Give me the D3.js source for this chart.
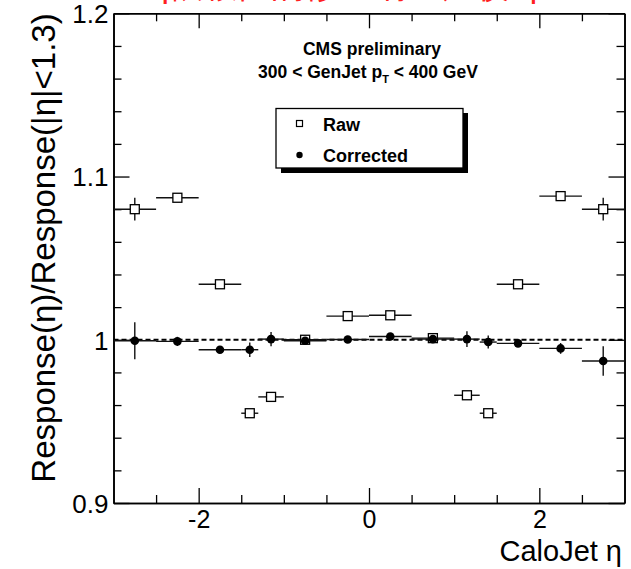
<!DOCTYPE html>
<html>
<head>
<meta charset="utf-8">
<script src="https://cdn.jsdelivr.net/npm/d3@7"></script>
<style>
  html, body { margin: 0; padding: 0; background: #fff; }
  svg { display: block; }
  text { font-family: "Liberation Sans", Arial, Helvetica, sans-serif; }
</style>
</head>
<body>
<svg id="chart" width="631" height="569"></svg>
<script>
// ---- data ----
const etaLow  = [-3, -2.5, -2, -1.5, -1.3, -1, -0.5, 0, 0.5, 1, 1.3, 1.5, 2, 2.5];
const etaHigh = [-2.5, -2, -1.5, -1.3, -1, -0.5, 0, 0.5, 1, 1.3, 1.5, 2, 2.5, 3];
const rawValues  = [1.080, 1.087, 1.034, 0.955, 0.965, 1.000, 1.0145, 1.015, 1.001, 0.966, 0.955, 1.034, 1.088, 1.080];
const rawErrors  = [0.007, 0.002, 0.001, 0.002, 0.001, 0.001, 0.001, 0.001, 0.001, 0.001, 0.002, 0.001, 0.002, 0.007];
const corrValues = [0.9994, 0.999, 0.9939, 0.9939, 1.0004, 0.9994, 1.0002, 1.002, 1.0004, 1.0004, 0.9986, 0.9978, 0.9947, 0.987];
const corrErrors = [0.0114, 0.0028, 0.001, 0.0045, 0.0043, 0.001, 0.001, 0.001, 0.001, 0.0048, 0.004, 0.001, 0.0033, 0.009];
const xMajorTicks = [-2, 0, 2];
const xTickLabels = ["-2", "0", "2"];
const yMajorTicks = [0.9, 1.0, 1.1, 1.2];
const yTickLabels = ["0.9", "1", "1.1", "1.2"];
const legendLabels = ["Raw", "Corrected"];

// ---- layout ----
const svg = d3.select("#chart");
const L = 113.5, R = 624.5, T = 13.3, B = 503;
const x = d3.scaleLinear().domain([-3, 3]).range([L, R]);
const y = d3.scaleLinear().domain([0.9, 1.2]).range([B, T]);

const xMinor = d3.range(-2.5, 3, 0.5).filter(v => !xMajorTicks.some(m => Math.abs(m - v) < 1e-9));
const yMinor = d3.range(0, 16).map(i => 0.9 + i * 0.02).filter(v => v < 1.2 + 1e-9 && !yMajorTicks.some(m => Math.abs(m - v) < 1e-6));

// red title, clipped by the top edge of the picture (as in the reference)
svg.append("text").attr("x", 150).attr("y", -3.5).attr("fill", "#ff2020")
  .attr("font-family", "Noto Sans CJK SC").attr("font-size", 34)
  .text("η依赖性的修正响应比较 η");

// axes
function styleAxis(g) {
  g.select(".domain").attr("stroke", "#000").attr("stroke-width", 1.6);
  g.selectAll(".tick line").attr("stroke", "#000").attr("stroke-width", 1.3);
}
// bottom
svg.append("g").attr("transform", `translate(0,${B})`)
  .call(d3.axisBottom(x).tickValues(xMajorTicks).tickSize(-15).tickSizeOuter(0)
        .tickFormat((d, i) => xTickLabels[i]))
  .call(styleAxis)
  .call(g => g.selectAll("text").attr("font-size", 25).attr("fill", "#000")
        .attr("font-family", "Liberation Sans, Arial, sans-serif").attr("dy", "0.71em").attr("y", 7));
svg.append("g").attr("transform", `translate(0,${B})`)
  .call(d3.axisBottom(x).tickValues(xMinor).tickSize(-8).tickSizeOuter(0).tickFormat(""))
  .call(styleAxis);
// top
svg.append("g").attr("transform", `translate(0,${T})`)
  .call(d3.axisTop(x).tickValues(xMajorTicks).tickSize(-15).tickSizeOuter(0).tickFormat(""))
  .call(styleAxis);
svg.append("g").attr("transform", `translate(0,${T})`)
  .call(d3.axisTop(x).tickValues(xMinor).tickSize(-8).tickSizeOuter(0).tickFormat(""))
  .call(styleAxis);
// left
svg.append("g").attr("transform", `translate(${L},0)`)
  .call(d3.axisLeft(y).tickValues(yMajorTicks).tickSize(-16).tickSizeOuter(0)
        .tickFormat((d, i) => yTickLabels[i]))
  .call(styleAxis)
  .call(g => g.selectAll("text").attr("font-size", 26).attr("fill", "#000")
        .attr("font-family", "Liberation Sans, Arial, sans-serif").attr("x", -5).attr("dy", "0.36em"));
svg.append("g").attr("transform", `translate(${L},0)`)
  .call(d3.axisLeft(y).tickValues(yMinor).tickSize(-8).tickSizeOuter(0).tickFormat(""))
  .call(styleAxis);
// right
svg.append("g").attr("transform", `translate(${R},0)`)
  .call(d3.axisRight(y).tickValues(yMajorTicks).tickSize(-16).tickSizeOuter(0).tickFormat(""))
  .call(styleAxis);
svg.append("g").attr("transform", `translate(${R},0)`)
  .call(d3.axisRight(y).tickValues(yMinor).tickSize(-8).tickSizeOuter(0).tickFormat(""))
  .call(styleAxis);

// axis titles
svg.append("text").attr("text-anchor", "end").attr("x", 622).attr("y", 561)
  .attr("font-size", 29).attr("fill", "#000").text("CaloJet η");
svg.append("text").attr("text-anchor", "end")
  .attr("transform", `translate(55,${T}) rotate(-90)`)
  .attr("font-size", 33).attr("fill", "#000").text("Response(η)/Response(|η|<1.3)");

// header text
svg.append("text").attr("text-anchor", "middle").attr("x", 372).attr("y", 55)
  .attr("font-size", 17.5).attr("font-weight", "bold").attr("fill", "#000").text("CMS preliminary");
const sub = svg.append("text").attr("text-anchor", "middle").attr("x", 368).attr("y", 78)
  .attr("font-size", 17.5).attr("font-weight", "bold").attr("fill", "#000");
sub.append("tspan").text("300 < GenJet p");
sub.append("tspan").attr("font-size", 11).attr("dy", 5).text("T");
sub.append("tspan").attr("dy", -5).text(" < 400 GeV");

// reference dashed line at 1
svg.append("line").attr("x1", x(-3)).attr("x2", x(3)).attr("y1", y(1)).attr("y2", y(1))
  .attr("stroke", "#000").attr("stroke-width", 2).attr("stroke-dasharray", "5,3");

// data points
function drawSeries(vals, errs, kind) {
  const g = svg.append("g");
  const idx = d3.range(vals.length);
  const cx = i => x((etaLow[i] + etaHigh[i]) / 2);
  g.selectAll("line.h").data(idx).join("line")
    .attr("x1", i => x(etaLow[i])).attr("x2", i => x(etaHigh[i]))
    .attr("y1", i => y(vals[i])).attr("y2", i => y(vals[i]))
    .attr("stroke", "#111").attr("stroke-width", 1.4);
  g.selectAll("line.v").data(idx).join("line")
    .attr("x1", cx).attr("x2", cx)
    .attr("y1", i => y(vals[i] - errs[i])).attr("y2", i => y(vals[i] + errs[i]))
    .attr("stroke", "#111").attr("stroke-width", 1.4);
  if (kind === "raw") {
    g.selectAll("rect").data(idx).join("rect")
      .attr("x", i => cx(i) - 4.5).attr("y", i => y(vals[i]) - 4.5)
      .attr("width", 9).attr("height", 9)
      .attr("fill", "#fff").attr("stroke", "#000").attr("stroke-width", 1.3);
  } else {
    g.selectAll("circle").data(idx).join("circle")
      .attr("cx", cx).attr("cy", i => y(vals[i])).attr("r", 4.3).attr("fill", "#000");
  }
}
drawSeries(rawValues, rawErrors, "raw");
drawSeries(corrValues, corrErrors, "corr");

// legend
const lg = svg.append("g");
lg.append("rect").attr("x", 281).attr("y", 113).attr("width", 187).attr("height", 60).attr("fill", "#000");
lg.append("rect").attr("x", 276).attr("y", 108.5).attr("width", 187).attr("height", 59.5)
  .attr("fill", "#fff").attr("stroke", "#000").attr("stroke-width", 1.3);
lg.append("rect").attr("x", 296.5).attr("y", 120.5).attr("width", 6).attr("height", 6)
  .attr("fill", "#fff").attr("stroke", "#000").attr("stroke-width", 1.2);
lg.append("circle").attr("cx", 299.5).attr("cy", 155).attr("r", 3.2).attr("fill", "#000");
lg.append("text").attr("x", 323).attr("y", 131).attr("font-size", 18).attr("font-weight", "bold")
  .attr("fill", "#000").text(legendLabels[0]);
lg.append("text").attr("x", 323).attr("y", 162).attr("font-size", 18).attr("font-weight", "bold")
  .attr("fill", "#000").text(legendLabels[1]);
</script>
</body>
</html>
